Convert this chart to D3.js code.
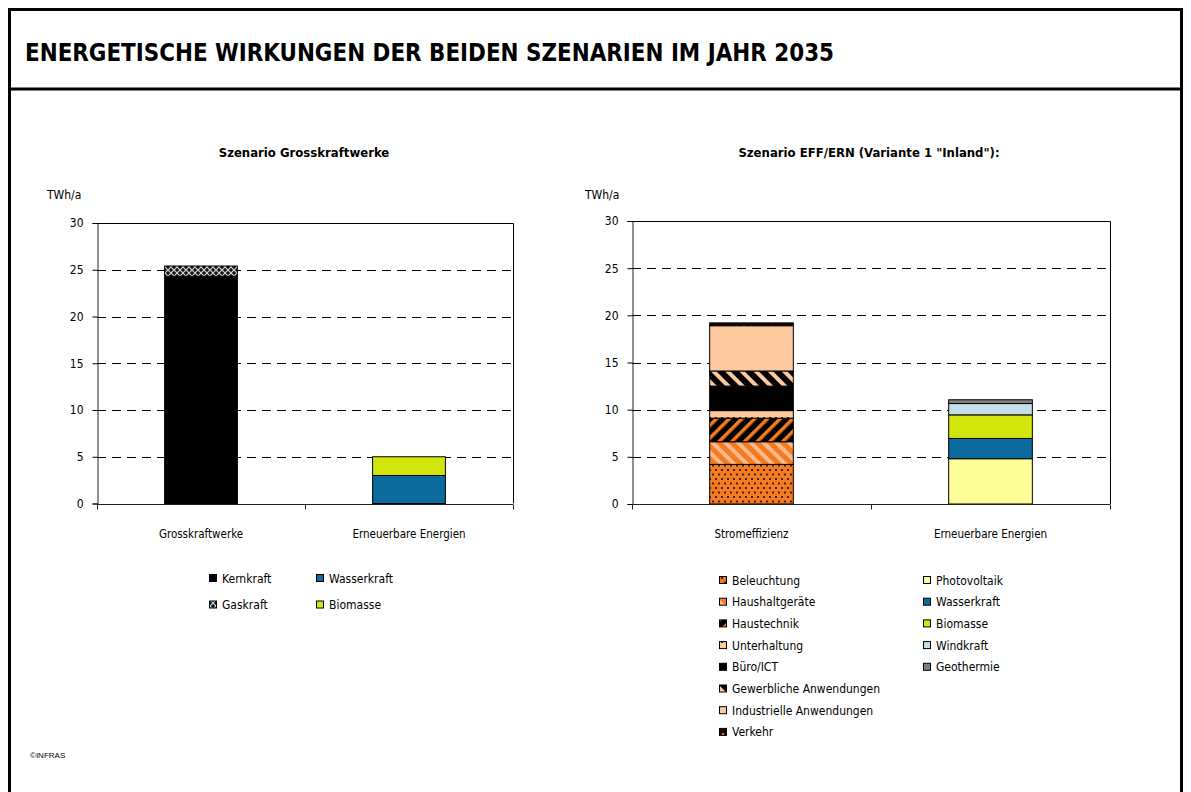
<!DOCTYPE html>
<html>
<head>
<meta charset="utf-8">
<script src="https://cdn.jsdelivr.net/npm/d3@7.9.0/dist/d3.min.js"></script>
<style>
  body { margin: 0; background: #fff; }
  svg text { font-family: "DejaVu Sans Condensed", "DejaVu Sans", sans-serif; fill: #000; }
</style>
</head>
<body>
<svg id="chart" width="1191" height="792"></svg>
<script>
// ---- data (TWh/a) ----
const yTicks = [0, 5, 10, 15, 20, 25, 30];

const gkwCategories = ["Grosskraftwerke", "Erneuerbare Energien"];
const gkwSeries = ["Kernkraft", "Gaskraft"];
const gkwValues = [24.3, 1.1];
const gkwErnSeries = ["Wasserkraft", "Biomasse"];
const gkwErnValues = [3.0, 2.0];

const effCategories = ["Stromeffizienz", "Erneuerbare Energien"];
const effSeries = ["Beleuchtung", "Haushaltgeräte", "Haustechnik", "Unterhaltung",
  "Büro/ICT", "Gewerbliche Anwendungen", "Industrielle Anwendungen", "Verkehr"];
const effValues = [4.2, 2.4, 2.5, 0.8, 2.6, 1.6, 4.8, 0.3];
const ernSeries = ["Photovoltaik", "Wasserkraft", "Biomasse", "Windkraft", "Geothermie"];
const ernValues = [4.8, 2.15, 2.5, 1.2, 0.4];

const ORANGE = "#f37b21", PEACH = "#fdc99e", DARK = "#000";

const svg = d3.select("#chart");
const defs = svg.append("defs");

function stripes(id, bg, fg, angle, period, w) {
  const p = defs.append("pattern").attr("id", id)
    .attr("patternUnits", "userSpaceOnUse")
    .attr("width", period).attr("height", period)
    .attr("patternTransform", `rotate(${angle})`);
  p.append("rect").attr("width", period).attr("height", period).attr("fill", bg);
  p.append("rect").attr("width", w).attr("height", period).attr("fill", fg);
}
function dots(id, bg, fg, w, h, stagger) {
  const p = defs.append("pattern").attr("id", id)
    .attr("patternUnits", "userSpaceOnUse")
    .attr("width", w).attr("height", h);
  p.append("rect").attr("width", w).attr("height", h).attr("fill", bg);
  p.append("rect").attr("x", 1).attr("y", 1).attr("width", 2).attr("height", 2).attr("fill", fg);
  if (stagger) p.append("rect").attr("x", 1 + w / 2).attr("y", 1 + h / 2)
    .attr("width", 2).attr("height", 2).attr("fill", fg);
}
dots("p-bel", ORANGE, "#4a2208", 6, 9, true);
stripes("p-hh", ORANGE, "#f9b98a", -45, 9, 4);
stripes("p-ht", DARK, ORANGE, 45, 9, 3.5);
dots("p-unt", PEACH, "#3a2a1a", 6, 8, false);
stripes("p-gew", DARK, PEACH, -45, 10, 4);
dots("p-ver", "#1a0a00", ORANGE, 7, 6, false);
// Gaskraft crosshatch
(function () {
  const p = defs.append("pattern").attr("id", "p-gas")
    .attr("patternUnits", "userSpaceOnUse").attr("width", 6).attr("height", 6);
  p.append("rect").attr("width", 6).attr("height", 6).attr("fill", "#111");
  p.append("path").attr("d", "M0,0 L6,6 M6,0 L0,6").attr("stroke", "#d8d8d8").attr("stroke-width", 1.2);
})();

const fills = {
  "Kernkraft": DARK, "Gaskraft": "url(#p-gas)",
  "Wasserkraft": "#0b6a9e", "Biomasse": "#d2e60c",
  "Beleuchtung": "url(#p-bel)", "Haushaltgeräte": "url(#p-hh)", "Haustechnik": "url(#p-ht)",
  "Unterhaltung": "url(#p-unt)", "Büro/ICT": DARK, "Gewerbliche Anwendungen": "url(#p-gew)",
  "Industrielle Anwendungen": PEACH, "Verkehr": "url(#p-ver)",
  "Photovoltaik": "#ffff99", "Windkraft": "#c3dde9", "Geothermie": "#808080"
};

// ---- frame + title ----
svg.append("rect").attr("x", 9.5).attr("y", 9.5).attr("width", 1172).attr("height", 800)
  .attr("fill", "none").attr("stroke", "#000").attr("stroke-width", 3);
svg.append("line").attr("x1", 9).attr("x2", 1182).attr("y1", 89).attr("y2", 89)
  .attr("stroke", "#000").attr("stroke-width", 3);
svg.append("text").attr("x", 25).attr("y", 61)
  .attr("font-size", 24).attr("font-weight", "bold")
  .attr("textLength", 809).attr("lengthAdjust", "spacingAndGlyphs")
  .text("ENERGETISCHE WIRKUNGEN DER BEIDEN SZENARIEN IM JAHR 2035");
svg.append("text").attr("x", 30).attr("y", 758)
  .style("font-family", "Liberation Sans, Arial, sans-serif").attr("font-size", 8)
  .text("©INFRAS");

function drawChart(box, categories, stacks, title, titleX, unitX) {
  const g = svg.append("g");
  const x = d3.scaleBand().domain(categories).range([box.x0, box.x1]);
  const y = d3.scaleLinear().domain([0, 30]).range([box.y1, box.y0]);

  g.append("text").attr("x", titleX).attr("y", 157).attr("text-anchor", "middle")
    .attr("font-size", 13).attr("font-weight", "bold").text(title);
  g.append("text").attr("x", unitX).attr("y", 199).attr("font-size", 12).text("TWh/a");

  // dashed gridlines
  g.selectAll(".grid").data(yTicks.filter(d => d > 0 && d < 30)).join("line")
    .attr("x1", box.x0).attr("x2", box.x1)
    .attr("y1", d => Math.round(y(d)) + 0.5).attr("y2", d => Math.round(y(d)) + 0.5)
    .attr("stroke", "#000").attr("stroke-dasharray", "9,6");
  // top + right frame
  g.append("path")
    .attr("d", `M${box.x0},${Math.round(box.y0) + 0.5}H${box.x1 + 0.5}V${box.y1}`)
    .attr("fill", "none").attr("stroke", "#000");

  // stacked bars
  const bw = x.bandwidth() * 0.35;
  stacks.forEach((s, i) => {
    let acc = 0;
    const cx = x(categories[i]) + x.bandwidth() / 2;
    s.values.forEach((v, j) => {
      if (!v) return;
      g.append("rect")
        .attr("x", cx - bw / 2).attr("width", bw)
        .attr("y", y(acc + v)).attr("height", y(acc) - y(acc + v))
        .attr("fill", fills[s.series[j]]).attr("stroke", "#000").attr("stroke-width", 1);
      acc += v;
    });
  });

  // y axis
  const ya = g.append("g").attr("transform", `translate(${box.x0 + 0.5},0)`)
    .call(d3.axisLeft(y).tickValues(yTicks).tickSize(5).tickPadding(9));
  ya.select(".domain").attr("stroke", "#222");
  ya.selectAll("text").attr("font-size", 12).style("font-family", "DejaVu Sans Condensed, sans-serif");

  // x axis with ticks at category boundaries
  const xa = g.append("g").attr("transform", `translate(0,${Math.round(box.y1) + 0.5})`);
  xa.append("line").attr("x1", box.x0).attr("x2", box.x1).attr("stroke", "#222");
  xa.selectAll(".tk").data([box.x0, ...categories.map(c => x(c) + x.bandwidth())]).join("line")
    .attr("x1", d => Math.round(d) + 0.5).attr("x2", d => Math.round(d) + 0.5)
    .attr("y1", 0).attr("y2", 5).attr("stroke", "#222");
  xa.selectAll(".lbl").data(categories).join("text")
    .attr("x", d => x(d) + x.bandwidth() / 2).attr("y", 33)
    .attr("text-anchor", "middle").attr("font-size", 11.5).text(d => d);
}

drawChart({ x0: 97, x1: 513, y0: 223, y1: 503.5 }, gkwCategories,
  [{ series: gkwSeries, values: gkwValues }, { series: gkwErnSeries, values: gkwErnValues }],
  "Szenario Grosskraftwerke", 304, 47);
drawChart({ x0: 632, x1: 1110, y0: 221, y1: 504 }, effCategories,
  [{ series: effSeries, values: effValues }, { series: ernSeries, values: ernValues }],
  "Szenario EFF/ERN (Variante 1 \"Inland\"):", 869, 585);

// ---- legends ----
function legend(items, x0, y0, dx, dy, cols) {
  const g = svg.append("g");
  items.forEach((name, i) => {
    const cx = x0 + (i % cols) * dx, cy = y0 + Math.floor(i / cols) * dy;
    g.append("rect").attr("x", cx + 0.5).attr("y", cy - 3.5).attr("width", 7).attr("height", 7)
      .attr("fill", fills[name]).attr("stroke", "#000");
    g.append("text").attr("x", cx + 13).attr("y", cy + 4.5).attr("font-size", 12).text(name);
  });
}
legend(["Kernkraft", "Wasserkraft", "Gaskraft", "Biomasse"], 209, 578, 107, 26.5, 2);
legend(effSeries, 719, 580, 0, 21.7, 1);
legend(ernSeries, 923, 580, 0, 21.7, 1);
</script>
</body>
</html>
